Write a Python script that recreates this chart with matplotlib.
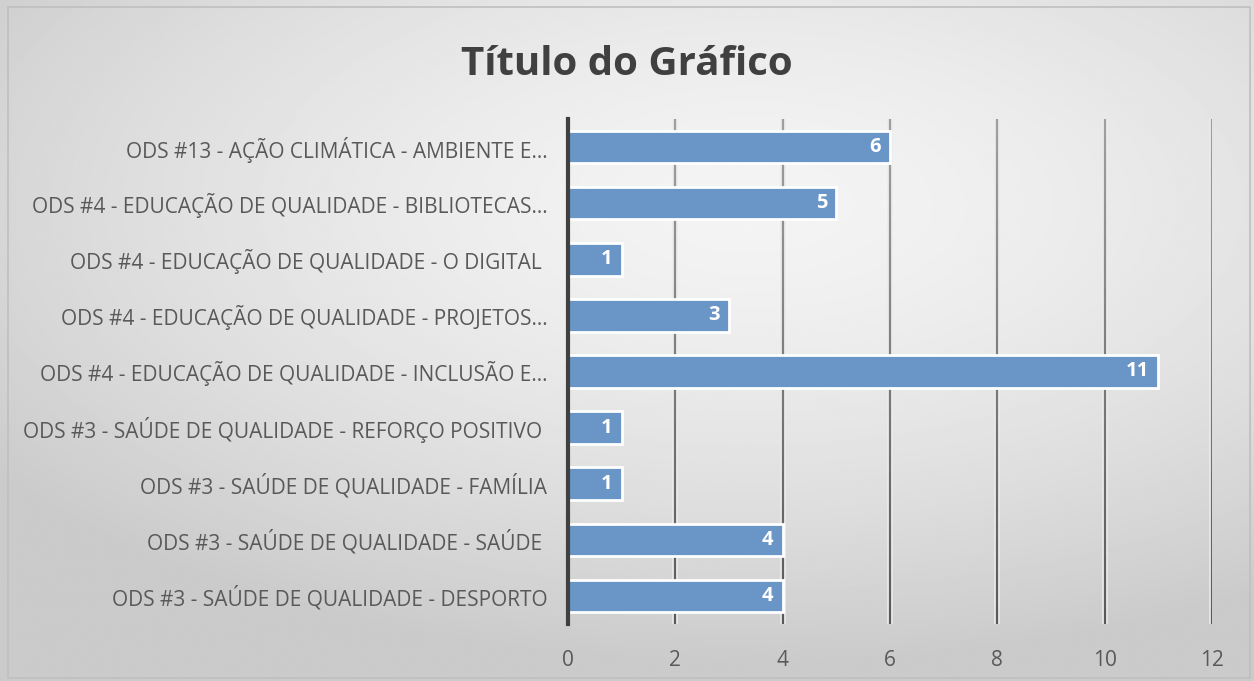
import numpy as np
import matplotlib.pyplot as plt
from matplotlib.patches import Rectangle
from matplotlib.collections import LineCollection

categorias = [
    "ODS #3 - SAÚDE DE QUALIDADE - DESPORTO",
    "ODS #3 - SAÚDE DE QUALIDADE - SAÚDE ",
    "ODS #3 - SAÚDE DE QUALIDADE - FAMÍLIA",
    "ODS #3 - SAÚDE DE QUALIDADE - REFORÇO POSITIVO ",
    "ODS #4 - EDUCAÇÃO DE QUALIDADE - INCLUSÃO E…",
    "ODS #4 - EDUCAÇÃO DE QUALIDADE - PROJETOS…",
    "ODS #4 - EDUCAÇÃO DE QUALIDADE - O DIGITAL ",
    "ODS #4 - EDUCAÇÃO DE QUALIDADE - BIBLIOTECAS…",
    "ODS #13 - AÇÃO CLIMÁTICA - AMBIENTE E…",
]
valores = [4, 4, 1, 1, 11, 3, 1, 5, 6]
ticks_x = [0, 2, 4, 6, 8, 10, 12]

plt.rcParams['font.family'] = ['Open Sans', 'DejaVu Sans']

fig = plt.figure(figsize=(12.54, 6.81), dpi=100)

# fundo em degradê
bg = fig.add_axes([0, 0, 1, 1], zorder=-5)
yy, xx = np.mgrid[0:1:300j, 0:1:600j]
r = np.sqrt(((xx - 0.6) / 1.0) ** 2 + ((yy - 0.3) / 0.9) ** 2)
img = 0.955 - 0.16 * np.clip(r / 0.75, 0, 1) ** 1.5
bg.imshow(img, cmap='gray', vmin=0, vmax=1, aspect='auto', extent=[0, 1, 1, 0])
bg.add_patch(Rectangle((0.006, 0.004), 0.991, 0.986, fill=False,
                       edgecolor='#bfbfbf', lw=1.2, transform=bg.transAxes))
bg.axis('off')

ax = fig.add_axes([0.453, 0.0837, 0.5135, 0.7416])
ax.set_facecolor('none')

y = np.arange(len(categorias))
# grelha com degradê (mais clara em cima)
n = 30
ys = np.linspace(8.5, -0.5, n + 1)
for t in ticks_x[1:]:
    ax.plot([t, t], [-0.5, 8.5], color='#ececec', lw=4, zorder=1)
    segs = [[(t, ys[i]), (t, ys[i + 1])] for i in range(n)]
    g = np.linspace(0.62, 0.35, n)
    cols = [(c, c, c) for c in g]
    ax.add_collection(LineCollection(segs, colors=cols, lw=1.6, zorder=1.5))

ax.barh(y, valores, height=0.58, color='#6a95c7', edgecolor='white', lw=2, zorder=2)
for yi, v in zip(y, valores):
    ax.text(v - 0.17, yi, str(v), ha='right', va='center', color='white',
            fontsize=14.5, fontweight='bold', zorder=3)

ax.set_xlim(0, 12)
ax.set_ylim(-0.5, 8.5)
ax.set_xticks(ticks_x)
ax.set_yticks(y)
ax.set_yticklabels(categorias)
ax.tick_params(axis='both', length=0, labelsize=15, colors='#595959')
ax.tick_params(axis='y', pad=15)
ax.tick_params(axis='x', pad=19)
for s in ['top', 'right', 'bottom']:
    ax.spines[s].set_visible(False)
ax.spines['left'].set_color('#404040')
ax.spines['left'].set_linewidth(3)
ax.spines['left'].set_zorder(4)

fig.text(0.5, 0.905, 'Título do Gráfico', ha='center', va='center',
         fontsize=29, fontweight='bold', color='#404040')

fig.savefig('out.png', dpi=100)
